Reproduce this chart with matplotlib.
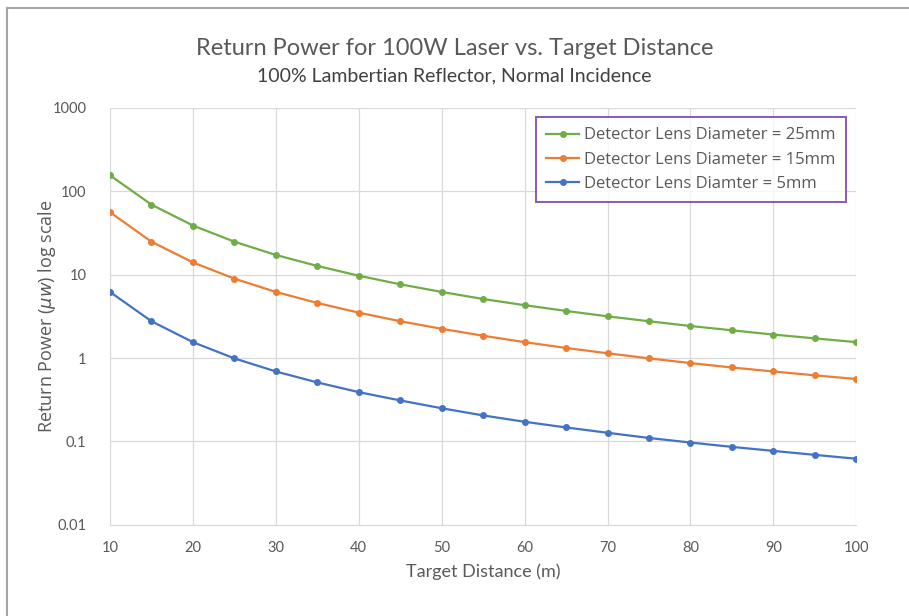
import matplotlib
matplotlib.use("Agg")
import matplotlib.pyplot as plt
from matplotlib.lines import Line2D

# distances (m) and return power (uW)
distance = [10, 15, 20, 25, 30, 35, 40, 45, 50, 55, 60, 65, 70, 75, 80, 85, 90, 95, 100]
lens_25mm = [155, 69, 38.8, 24.8, 17.2, 12.7, 9.7, 7.65, 6.2, 5.1, 4.3, 3.67, 3.16,
             2.76, 2.42, 2.15, 1.91, 1.72, 1.55]
lens_15mm = [56, 24.8, 14.0, 8.95, 6.2, 4.57, 3.5, 2.76, 2.24, 1.85, 1.55, 1.32, 1.14,
             0.99, 0.87, 0.77, 0.69, 0.62, 0.56]
lens_5mm = [6.2, 2.76, 1.55, 0.99, 0.69, 0.51, 0.39, 0.31, 0.25, 0.205, 0.172, 0.147,
            0.127, 0.11, 0.097, 0.086, 0.077, 0.069, 0.062]

x_ticks = [10, 20, 30, 40, 50, 60, 70, 80, 90, 100]
y_ticks = [0.01, 0.1, 1, 10, 100, 1000]
y_labels = ["0.01", "0.1", "1", "10", "100", "1000"]

GREEN = "#70AD47"
ORANGE = "#ED7D31"
BLUE = "#4472C4"
TEXT = "#595959"

plt.rcParams['font.family'] = ['Lato', 'DejaVu Sans']

fig = plt.figure(figsize=(9.09, 6.16), dpi=100)
# only top and left edges of the outer frame are visible in the original
fig.lines.append(Line2D([0.008, 1.0], [0.987, 0.987], transform=fig.transFigure,
                        color="#A6A6A6", linewidth=1.5))
fig.lines.append(Line2D([0.008, 0.008], [0.0, 0.987], transform=fig.transFigure,
                        color="#A6A6A6", linewidth=1.5))

ax = fig.add_axes([0.121, 0.148, 0.821, 0.677])
ax.set_yscale("log")

ax.plot(distance, lens_25mm, color=GREEN, marker="o", markersize=4, linewidth=1.6,
        label="Detector Lens Diameter = 25mm")
ax.plot(distance, lens_15mm, color=ORANGE, marker="o", markersize=4, linewidth=1.6,
        label="Detector Lens Diameter = 15mm")
ax.plot(distance, lens_5mm, color=BLUE, marker="o", markersize=4, linewidth=1.6,
        label="Detector Lens Diamter = 5mm")

ax.set_xlim(10, 100)
ax.set_ylim(0.01, 1000)
ax.set_xticks(x_ticks)
ax.set_yticks(y_ticks)
ax.set_yticklabels(y_labels)
ax.minorticks_off()
ax.grid(True, color="#D9D9D9", linewidth=0.9)
ax.set_axisbelow(True)
for s in ["top", "right", "left"]:
    ax.spines[s].set_visible(False)
ax.spines["bottom"].set_color("#D9D9D9")
ax.tick_params(length=0, labelsize=10.5, colors=TEXT)
ax.tick_params(axis="x", pad=12)
ax.tick_params(axis="y", pad=17)

ax.set_xlabel("Target Distance (m)", fontsize=13, color=TEXT, labelpad=6)
ax.set_ylabel(r"Return Power ($\mu w$) log scale", fontsize=13, color=TEXT,
              family="Open Sans")
ax.yaxis.set_label_coords(-0.069, 0.5)

fig.text(0.5, 0.922, "Return Power for 100W Laser vs. Target Distance",
         ha="center", va="center", fontsize=17, color=TEXT)
fig.text(0.5, 0.877, "100% Lambertian Reflector, Normal Incidence",
         ha="center", va="center", fontsize=14, color="#404040")

leg = ax.legend(loc="upper right", bbox_to_anchor=(0.997, 0.997),
                frameon=True, fancybox=False, handlelength=2.0, handletextpad=0.3,
                borderpad=0.6, labelspacing=0.5,
                prop={"family": "Open Sans", "size": 12})
leg.get_frame().set_edgecolor("#7030A0")
leg.get_frame().set_linewidth(1.4)
for t in leg.get_texts():
    t.set_color(TEXT)

fig.savefig("out.png", dpi=100)
